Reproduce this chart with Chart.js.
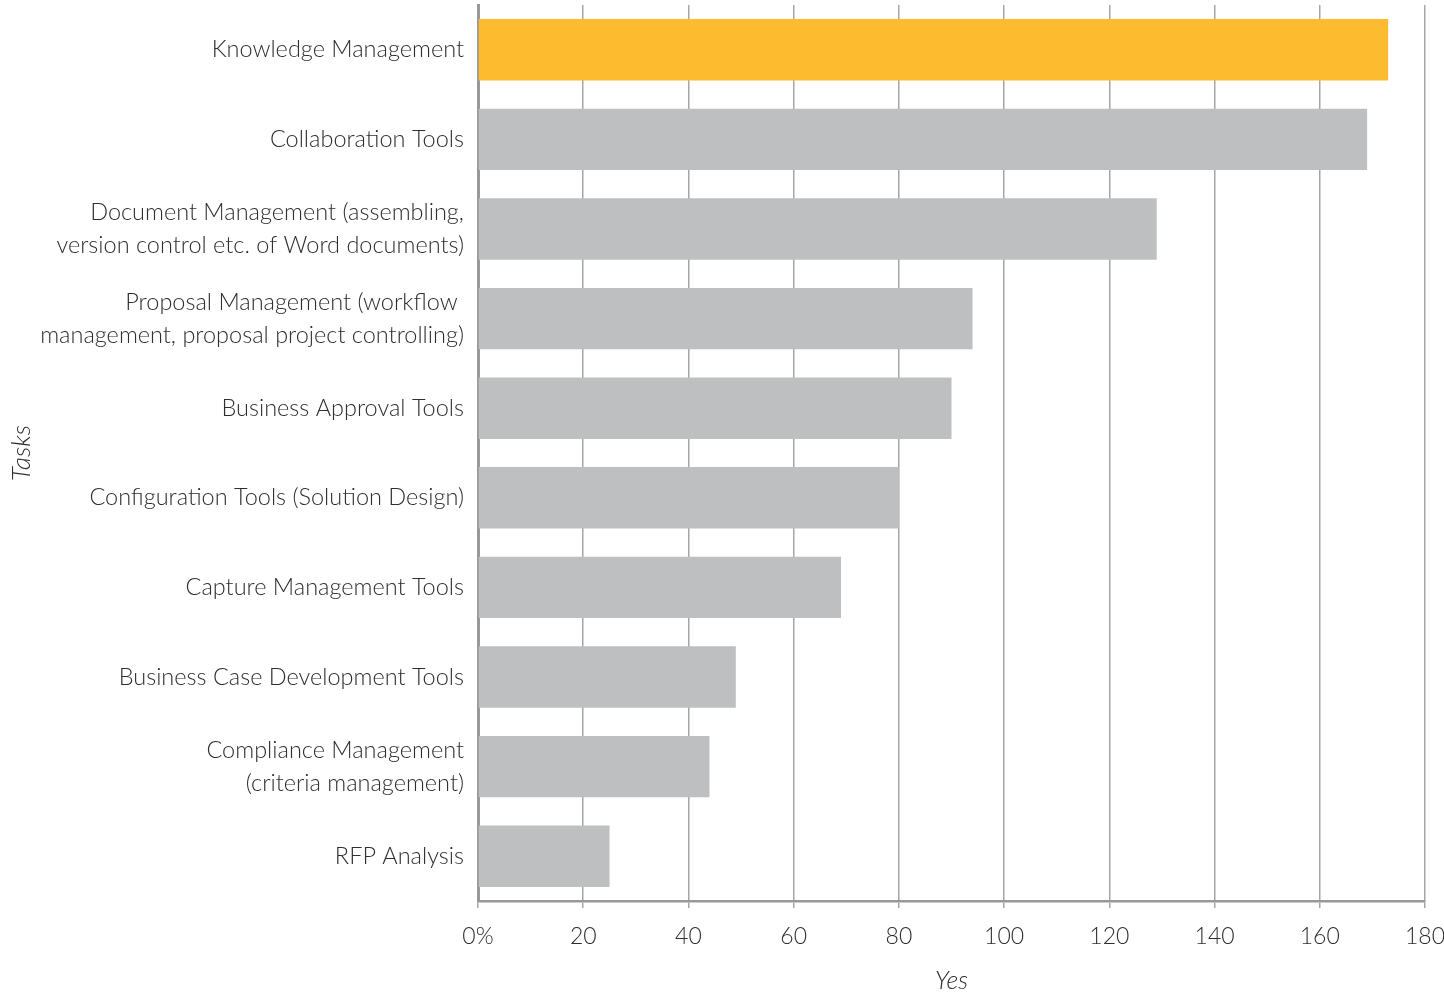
<!DOCTYPE html>
<html>
<head>
<meta charset="utf-8">
<title>Tasks</title>
<script src="https://cdn.jsdelivr.net/npm/chart.js@4.4.1/dist/chart.umd.min.js"></script>
<style>
    body { margin: 0; background: #fff; }
    #wrap { width: 1444px; height: 996px; }
</style>
</head>
<body>
<div id="wrap"><canvas id="barchart" width="1444" height="996"></canvas></div>
<script>
// Tasks and how many answered "Yes"
const tasks = [
    'Knowledge Management',
    'Collaboration Tools',
    ['Document Management (assembling,', 'version control etc. of Word documents)'],
    ['Proposal Management (workflow ', 'management, proposal project controlling)'],
    'Business Approval Tools',
    'Configuration Tools (Solution Design)',
    'Capture Management Tools',
    'Business Case Development Tools',
    ['Compliance Management', '(criteria management)'],
    'RFP Analysis'
];
const yesCounts = [173, 169, 129, 94, 90, 80, 69, 49, 44, 25];
const xTickLabels = ['0%', '20', '40', '60', '80', '100', '120', '140', '160', '180'];

const FONT = 'Lato, "Open Sans", sans-serif';
const TEXT = '#2e2e2e';
const HIGHLIGHT = '#FDBB30';
const BAR_GREY = '#BEBFC1';

var ctx = document.getElementById('barchart').getContext('2d');
new Chart(ctx, {
    type: 'bar',
    data: {
        labels: tasks,
        datasets: [{
            label: 'Yes',
            data: yesCounts,
            // first task is the highlighted one
            backgroundColor: (c) => c.dataIndex === 0 ? HIGHLIGHT : BAR_GREY,
            borderWidth: 0,
            categoryPercentage: 1,
            barPercentage: 0.685
        }]
    },
    options: {
        indexAxis: 'y',
        responsive: false,
        animation: false,
        layout: { padding: { top: 5, right: 19, left: 0, bottom: 0 } },
        plugins: {
            legend: { display: false },
            tooltip: { enabled: false }
        },
        scales: {
            x: {
                min: 0,
                max: 180,
                ticks: {
                    stepSize: 20,
                    color: TEXT,
                    padding: 15,
                    maxRotation: 0,
                    font: { family: FONT, size: 23, weight: '300' },
                    callback: (value, index) => xTickLabels[index]
                },
                grid: { color: '#A6A6A6', lineWidth: 1.5, tickLength: 7 },
                border: { display: true, color: '#999999', width: 2.5 },
                title: {
                    display: true,
                    text: 'Yes',
                    color: TEXT,
                    padding: { top: 0, bottom: 0 },
                    font: { family: FONT, size: 25, style: 'italic', weight: '300' }
                },
                afterFit: (scale) => {
                    scale.height = 95;
                    scale.paddingLeft = 0;
                    scale.paddingRight = 0;
                }
            },
            y: {
                ticks: {
                    color: TEXT,
                    padding: 14,
                    font: { family: FONT, size: 23.5, weight: '300', lineHeight: 1.4 }
                },
                grid: { drawOnChartArea: false, drawTicks: false },
                border: { display: true, color: '#999999', width: 3 },
                title: {
                    display: true,
                    text: 'Tasks',
                    color: TEXT,
                    padding: { top: 6, bottom: 0 },
                    font: { family: FONT, size: 26, style: 'italic', weight: '300' }
                },
                afterFit: (scale) => {
                    scale.width = 478;
                    scale.paddingTop = 0;
                    scale.paddingBottom = 0;
                }
            }
        }
    }
});
</script>
</body>
</html>
